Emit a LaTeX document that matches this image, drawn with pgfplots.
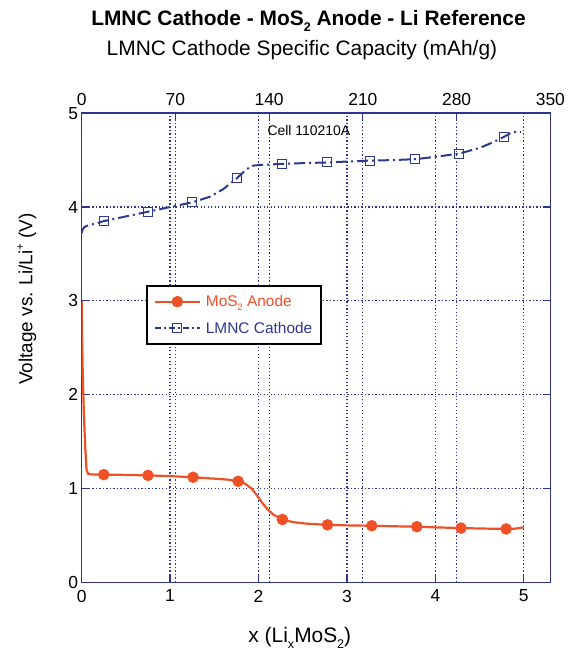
\documentclass[border=0pt]{standalone}
\usepackage{fontspec}
\setmainfont{Liberation Sans}
\usepackage{pgfplots}
\pgfplotsset{compat=1.18}
\definecolor{frameblue}{RGB}{46,52,146}
\definecolor{cathblue}{RGB}{43,57,144}
\definecolor{anodered}{RGB}{240,80,38}
\newcommand\sub[1]{\raisebox{-0.55ex}{\scalebox{0.6}{#1}}}
\newcommand\sups[1]{\raisebox{0.85ex}{\scalebox{0.6}{#1}}}

\pgfplotsset{
  chartframe/.style={
    scale only axis, width=469bp, height=469.4bp,
    ymin=0, ymax=5,
    axis line style={frameblue, line width=1.6bp},
    major tick style={frameblue, line width=1.2bp},
    tick align=inside, major tick length=7bp,
    grid style={frameblue, line width=1.2bp, dash pattern=on 1.4bp off 2.1bp},
    tick label style={font=\fontsize{17.5}{17.5}\selectfont, black},
    /pgf/number format/assume math mode=true,
  },
}

\begin{document}
\begin{tikzpicture}
% top axis: cathode specific capacity
\begin{axis}[chartframe,
  xmin=0, xmax=350,
  axis x line*=top, axis y line=none,
  xtick={0,70,140,210,280,350},
  xticklabel style={yshift=4bp},
  xmajorgrids,
  xlabel={LMNC Cathode Specific Capacity (mAh/g)},
  xlabel style={at={(axis description cs:0.47,1.124)}, anchor=base,
    font=\fontsize{21}{21}\selectfont},
  title={\textbf{LMNC Cathode - MoS\sub{2} Anode - Li Reference}},
  title style={at={(axis description cs:0.484,1.175)}, anchor=base,
    font=\fontsize{21}{21}\selectfont},
]
\end{axis}

% main axis: x in Li_xMoS2
\begin{axis}[chartframe, name=main,
  xmin=0, xmax=5.3,
  xtick={0,1,2,3,4,5}, xtick pos=left,
  xticklabel style={yshift=-4bp},
  ytick={0,1,2,3,4,5}, ytick pos=both, yticklabel pos=left,
  grid=major,
  xlabel={x (Li\sub{x}MoS\sub{2})},
  xlabel style={at={(axis description cs:0.4655,-0.1285)}, anchor=base,
    font=\fontsize{21}{21}\selectfont},
  ylabel={Voltage vs. Li/Li\sups{+} (V)},
  ylabel style={at={(axis description cs:-0.105,0.604)}, anchor=base,
    font=\fontsize{19}{19}\selectfont},
  legend style={at={(0.137,0.634)}, anchor=north west, draw=black, line width=1.8bp,
    font=\fontsize{15.5}{15.5}\selectfont, inner xsep=7bp, inner ysep=7.5bp, row sep=10bp,
    /tikz/every odd column/.append style={column sep=3bp}},
  legend cell align=left,
  legend image code/.code={\draw[mark repeat=2, mark phase=2, #1]
    plot coordinates {(0bp,0bp) (22.5bp,0bp) (45bp,0bp)};},
]
\addlegendimage{anodered, line width=2.2bp, mark=*, mark size=5.5bp,
  mark options={fill=anodered, draw=anodered, line width=0.5bp}}
\addlegendentry{\textcolor{anodered}{MoS\sub{2} Anode}}
\addlegendimage{cathblue, line width=1.6bp, dash pattern=on 6bp off 3bp on 2bp off 3bp,
  mark=square, mark size=4.5bp, mark options={solid, line width=1bp}}
\addlegendentry{\textcolor{cathblue}{LMNC Cathode}}

% LMNC cathode curve
\addplot[cathblue, line width=2bp, dash pattern=on 11bp off 4bp on 2bp off 4bp, forget plot]
coordinates {
(0,3.72) (0.01,3.76) (0.03,3.785) (0.06,3.80) (0.1,3.81) (0.18,3.83) (0.25,3.85)
(0.5,3.90) (0.75,3.95) (1.0,4.00) (1.25,4.05) (1.45,4.11) (1.6,4.19) (1.76,4.31)
(1.86,4.40) (1.93,4.44) (2.0,4.447) (2.26,4.46) (2.5,4.468) (2.77,4.475) (3.0,4.485)
(3.26,4.495) (3.5,4.50) (3.77,4.51) (4.0,4.535) (4.27,4.57) (4.5,4.63) (4.65,4.69)
(4.78,4.75) (4.87,4.80) (4.97,4.80)
};
\addplot[only marks, mark=square, mark size=4.5bp, cathblue,
  mark options={solid, line width=1bp}, forget plot]
coordinates {
(0.25,3.85) (0.75,3.95) (1.25,4.05) (1.76,4.31) (2.26,4.46) (2.77,4.475)
(3.26,4.495) (3.77,4.51) (4.27,4.57) (4.78,4.75)
};

% MoS2 anode curve
\addplot[anodered, line width=2.2bp, forget plot]
coordinates {
(0,3.0) (0.005,2.6) (0.012,2.25) (0.025,1.8) (0.04,1.45) (0.055,1.2) (0.075,1.155)
(0.12,1.15) (0.25,1.148) (0.5,1.145) (0.75,1.14) (1.0,1.132) (1.25,1.12) (1.5,1.105)
(1.65,1.095) (1.77,1.077) (1.85,1.05) (1.92,1.0) (1.98,0.93) (2.04,0.85) (2.1,0.78)
(2.17,0.72) (2.27,0.67) (2.4,0.64) (2.55,0.625) (2.78,0.613) (3.0,0.607) (3.28,0.603)
(3.5,0.598) (3.79,0.593) (4.0,0.586) (4.29,0.578) (4.55,0.573) (4.8,0.569) (4.9,0.572)
(5.0,0.587)
};
\addplot[only marks, mark=*, mark size=5.5bp, anodered,
  mark options={fill=anodered, draw=anodered, line width=0.5bp}, forget plot]
coordinates {
(0.25,1.148) (0.75,1.14) (1.26,1.12) (1.77,1.077) (2.27,0.67) (2.78,0.613)
(3.28,0.603) (3.79,0.593) (4.29,0.578) (4.80,0.569)
};

\node[anchor=west, inner sep=0pt, font=\fontsize{14}{14}\selectfont]
  at (axis cs:2.1,4.82) {Cell 110210A};
\end{axis}

% canvas of the reference
\path ([xshift=-81.7bp,yshift=-69.3bp]main.south west)
  rectangle ([xshift=12.3bp,yshift=113.3bp]main.north east);
\end{tikzpicture}
\end{document}
